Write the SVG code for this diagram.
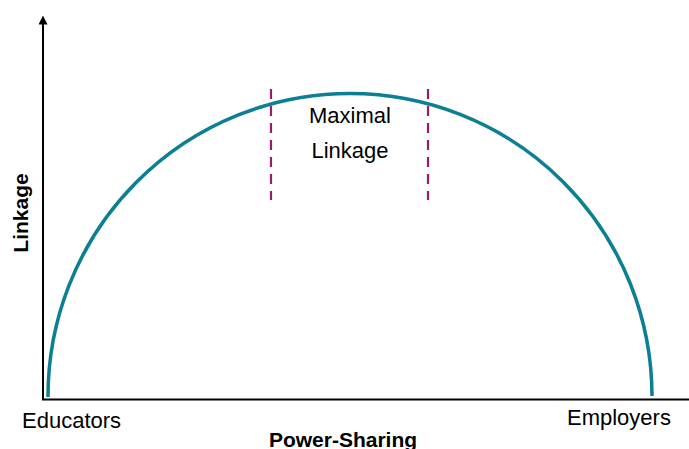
<svg xmlns="http://www.w3.org/2000/svg" width="689" height="449" viewBox="0 0 689 449">
<style>
.axis{stroke:#000;stroke-width:2;fill:none}
.curve{stroke:#0B7F93;stroke-width:3.5;fill:none}
.dash{stroke:#9C1A6E;stroke-width:2.2;stroke-dasharray:10 7;fill:none}
.t{font-family:"Liberation Sans",Arial,sans-serif;font-size:22px;fill:#000}
.b{font-family:"Liberation Sans",Arial,sans-serif;font-size:21px;font-weight:bold;fill:#000}
</style>
<defs>
<marker id="arr" viewBox="0 0 10 10" refX="5" refY="5" markerWidth="4.5" markerHeight="4.5" orient="auto" markerUnits="strokeWidth">
<path d="M0,0 L10,5 L0,10 z" fill="#000"/>
</marker>
</defs>
<g id="connectors">
<line class="axis" x1="43" y1="400" x2="43" y2="20" marker-end="url(#arr)"/>
<line class="axis" x1="42" y1="399.5" x2="689" y2="399.5"/>
<path class="curve" d="M48 397 A302 303 0 0 1 652 396"/>
<line class="dash" x1="271" y1="89" x2="271" y2="200"/>
<line class="dash" x1="428" y1="89" x2="428" y2="200"/>
</g>
<g id="maximal">
<text class="t" x="350" y="123" text-anchor="middle">Maximal</text>
<text class="t" x="350" y="158" text-anchor="middle">Linkage</text>
</g>
<g id="educators"><text class="t" x="22" y="428">Educators</text></g>
<g id="employers"><text class="t" x="567" y="425">Employers</text></g>
<g id="xlabel"><text class="b" x="343" y="447" text-anchor="middle" font-size="22">Power-Sharing</text></g>
<g id="ylabel"><text class="b" transform="translate(28,213) rotate(-90)" text-anchor="middle">Linkage</text></g>
</svg>
